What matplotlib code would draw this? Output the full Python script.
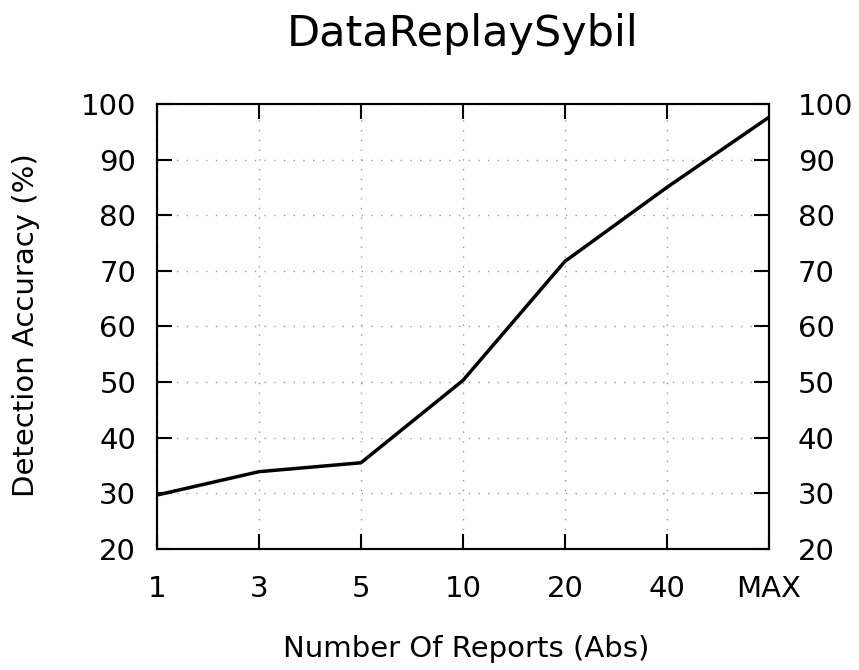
import matplotlib
matplotlib.use('Agg')
import matplotlib.pyplot as plt

# Values
reports = ['1', '3', '5', '10', '20', '40', 'MAX']
accuracy = [29.7, 33.9, 35.5, 50.3, 71.7, 85.0, 97.6]

fig = plt.figure(figsize=(8.59, 6.70), dpi=100)
ax = fig.add_axes([0.1828, 0.1806, 0.7122, 0.6642])

x = list(range(len(reports)))
ax.plot(x, accuracy, color='black', linewidth=2.5)

ax.set_xlim(0, len(reports) - 1)
ax.set_ylim(20, 100)
ax.set_xticks(x)
ax.set_xticklabels(reports)
ax.set_yticks(range(20, 101, 10))

ax.grid(True, linestyle=(0, (1, 6)), color='#999999', linewidth=1.0)
ax.tick_params(direction='in', length=11, width=1.5, labelsize=21,
               top=True, right=True)
ax.tick_params(axis='x', pad=19)
ax.tick_params(axis='y', pad=15)
for s in ax.spines.values():
    s.set_linewidth(1.5)

# right-hand labels sit a bit further from the frame than the left ones
ax2 = ax.twinx()
ax2.set_ylim(ax.get_ylim())
ax2.set_yticks(range(20, 101, 10))
ax2.tick_params(direction='in', length=11, width=1.5, labelsize=21, pad=21)
for s in ax2.spines.values():
    s.set_linewidth(1.5)

ax.set_title('DataReplaySybil', fontsize=31, pad=42)
# axis labels placed in figure coords to match the reference layout
fig.text(466 / 859, 1 - 657 / 670, 'Number Of Reports (Abs)', fontsize=21,
         ha='center', va='baseline')
fig.text(26 / 859, 1 - 325 / 670, 'Detection Accuracy (%)', fontsize=21,
         ha='center', va='center', rotation=90)

fig.savefig('out.png', dpi=100)
